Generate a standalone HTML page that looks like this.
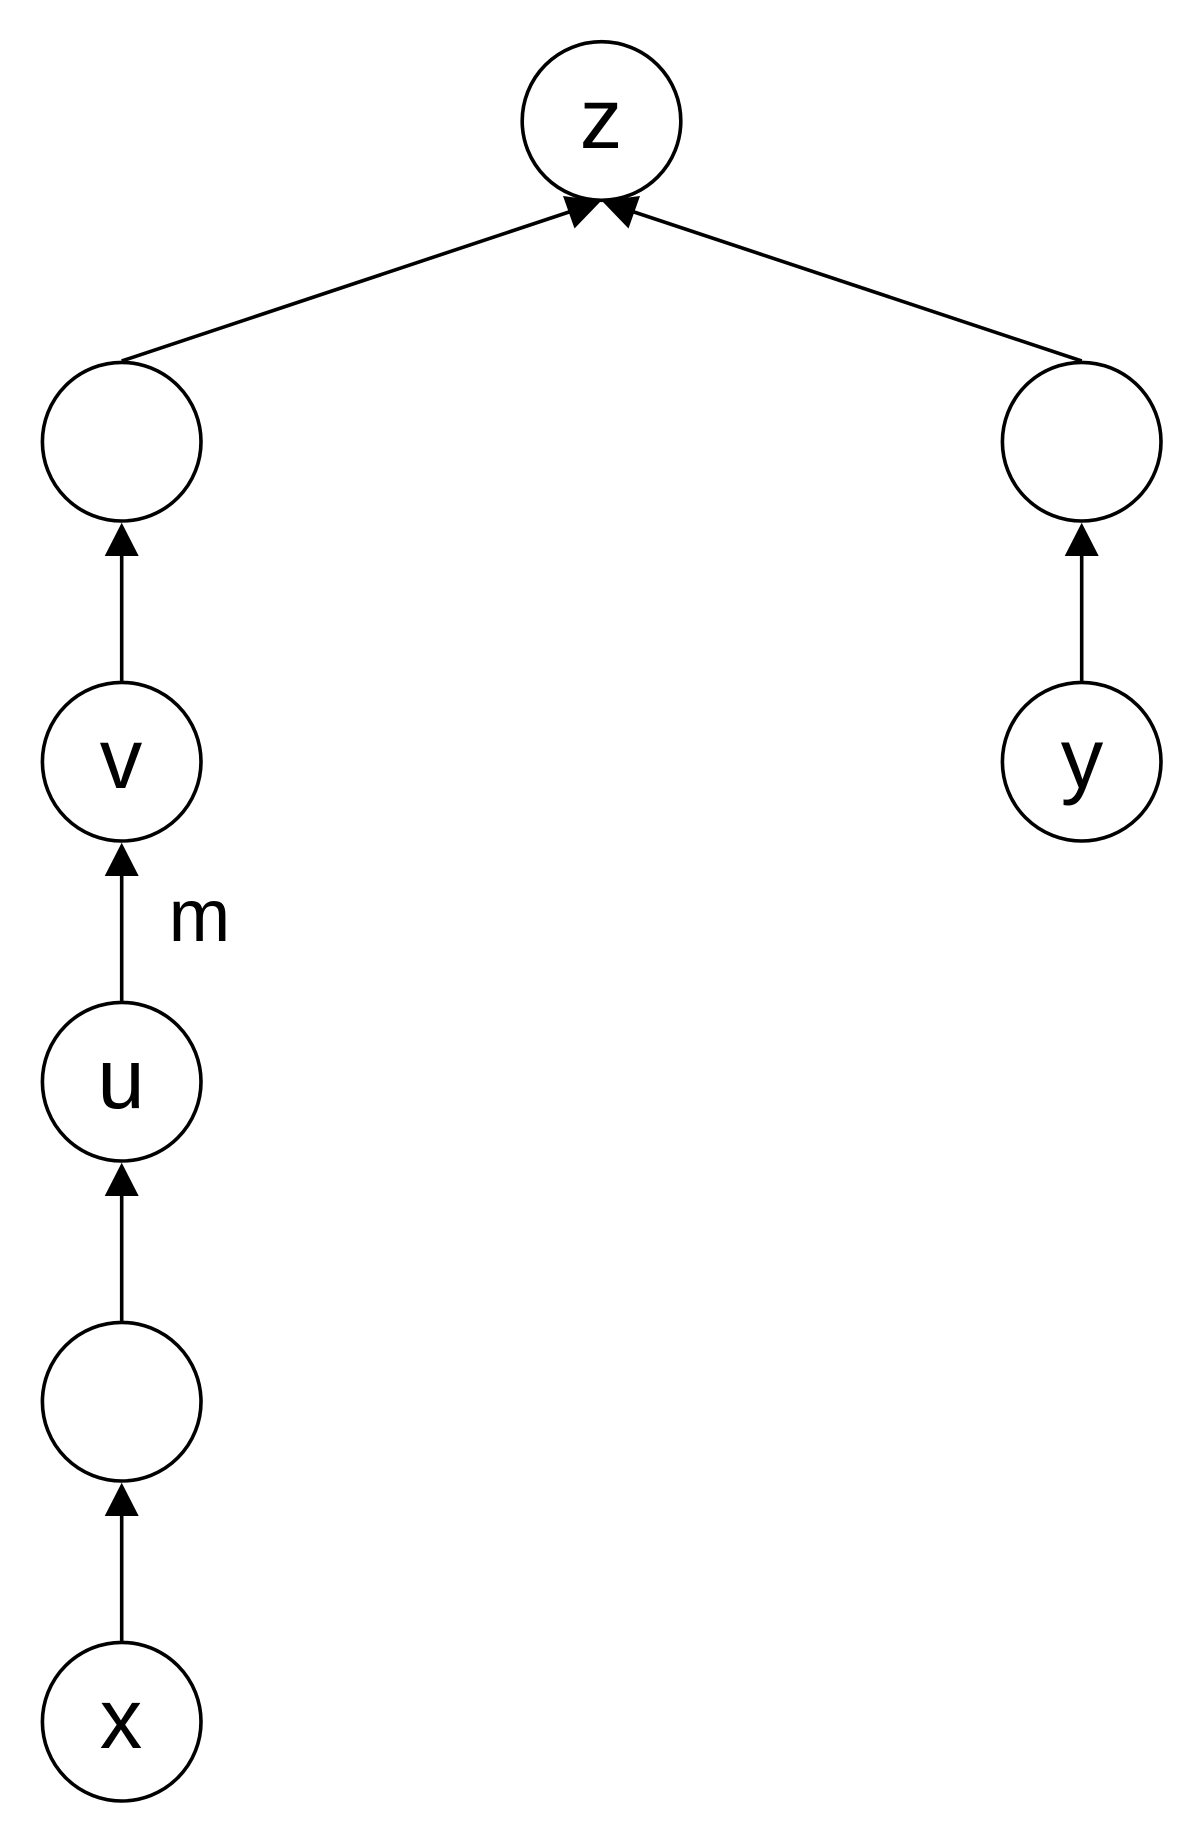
<!DOCTYPE html>
<html>
<head>
<meta charset="utf-8">
<style>
html,body{margin:0;padding:0;background:#fff;}
svg{display:block;}
text{font-family:"Liberation Sans",Arial,sans-serif;fill:#000;}
</style>
</head>
<body>
<svg width="1204" height="1844" viewBox="0 0 1204 1844" xmlns="http://www.w3.org/2000/svg">
<g fill="none" stroke="#000" stroke-width="3.6">
  <circle cx="601.5" cy="121" r="79.3"/>
  <circle cx="121.7" cy="441.7" r="79.3"/>
  <circle cx="1081.7" cy="441.7" r="79.3"/>
  <circle cx="121.7" cy="761.7" r="79.3"/>
  <circle cx="1081.7" cy="761.7" r="79.3"/>
  <circle cx="121.7" cy="1081.7" r="79.3"/>
  <circle cx="121.7" cy="1401.7" r="79.3"/>
  <circle cx="121.7" cy="1721.7" r="79.3"/>
  <!-- diagonal edges -->
  <line x1="121.7" y1="361" x2="569" y2="212"/>
  <line x1="1081.7" y1="361" x2="634" y2="212"/>
  <!-- vertical edges -->
  <line x1="121.7" y1="556" x2="121.7" y2="681"/>
  <line x1="1081.7" y1="556" x2="1081.7" y2="681"/>
  <line x1="121.7" y1="876" x2="121.7" y2="1001"/>
  <line x1="121.7" y1="1196" x2="121.7" y2="1321"/>
  <line x1="121.7" y1="1516" x2="121.7" y2="1641"/>
</g>
<g fill="#000" stroke="none">
  <polygon points="601,201 563,196 574.5,228.5"/>
  <polygon points="602,201 640,196 628.5,228.5"/>
  <polygon points="121.7,522.7 104.7,556 138.7,556"/>
  <polygon points="1081.7,522.7 1064.7,556 1098.7,556"/>
  <polygon points="121.7,842.7 104.7,876 138.7,876"/>
  <polygon points="121.7,1162.7 104.7,1196 138.7,1196"/>
  <polygon points="121.7,1482.7 104.7,1516 138.7,1516"/>
</g>
<g font-size="85" text-anchor="middle">
  <text x="601" y="148">z</text>
  <text x="121" y="788">v</text>
  <text x="1082" y="788">y</text>
  <text x="121" y="1108">u</text>
  <text x="121" y="1748">x</text>
</g>
<text x="199.5" y="941" font-size="74" text-anchor="middle">m</text>
</svg>
</body>
</html>
